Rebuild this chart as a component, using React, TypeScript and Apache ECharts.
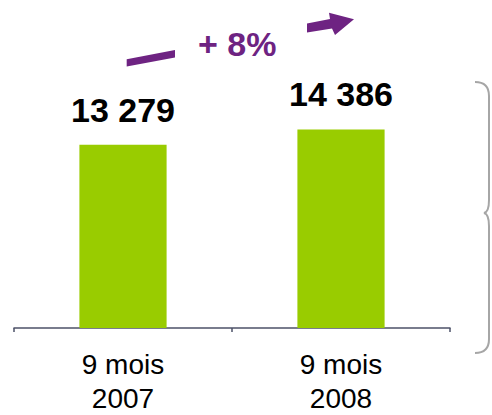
import React, { useEffect, useRef } from "react";
import * as echarts from "echarts";

const categories = ["9 mois\n2007", "9 mois\n2008"];
const values = [13279, 14386];
const valueLabels = ["13 279", "14 386"];
const growthLabel = "+ 8%";

const PURPLE = "#6E2382";
const GREEN = "#99CC00";

echarts.graphic.registerShape(
  "brace",
  echarts.graphic.extendPath(
    "M475,82 Q489,82 489,96 L489,200 Q489,212 484,213 Q489,214 489,226 L489,339 Q489,353 475,353",
    {}
  )
);

export default function App() {
  const ref = useRef<HTMLDivElement>(null);
  useEffect(() => {
    if (!ref.current) return;
    const chart = echarts.init(ref.current, null, { renderer: "svg" });
    chart.setOption({
      animation: false,
      backgroundColor: "#ffffff",
      grid: { left: 14, right: 42, top: 52, bottom: 80 },
      xAxis: {
        type: "category",
        data: categories,
        boundaryGap: true,
        axisLine: { lineStyle: { color: "#4d5268", width: 1.5 } },
        axisTick: { show: true, length: 4, lineStyle: { color: "#4d5268", width: 1.5 } },
        axisLabel: {
          margin: 19,
          fontFamily: "Liberation Sans, Arial, sans-serif",
          fontSize: 28,
          lineHeight: 34,
          color: "#000000",
        },
      },
      yAxis: {
        type: "value",
        min: 0,
        max: 20000,
        show: false,
        splitLine: { show: false },
      },
      series: [
        {
          type: "bar",
          data: values,
          barWidth: "40%",
          itemStyle: { color: GREEN },
          label: {
            show: true,
            position: "top",
            distance: 18,
            formatter: (p: any) => valueLabels[p.dataIndex],
            fontFamily: "Liberation Sans, Arial, sans-serif",
            fontWeight: "bold",
            fontSize: 34,
            color: "#000000",
          },
        },
      ],
      graphic: [
        {
          type: "polygon",
          shape: {
            points: [
              [126.7, 59.3],
              [175, 50],
              [175, 57.5],
              [126.7, 66.5],
            ],
          },
          style: { fill: PURPLE },
        },
        {
          type: "polygon",
          shape: {
            points: [
              [307, 23.5],
              [330, 19],
              [329, 12.7],
              [354, 19.3],
              [335, 35],
              [332, 28.5],
              [307, 32.5],
            ],
          },
          style: { fill: PURPLE },
        },
        {
          type: "text",
          left: 198,
          top: 27,
          style: {
            text: growthLabel,
            fill: PURPLE,
            font: "bold 34px 'Liberation Sans', Arial, sans-serif",
          },
        },
        {
          type: "brace",
          x: 0,
          y: 0,
          style: { fill: "none", stroke: "#a6a6a6", lineWidth: 2 },
        },
      ],
    });
    return () => chart.dispose();
  }, []);
  return (
    <div
      ref={ref}
      style={{ position: "fixed", left: 0, top: 0, width: 492, height: 415 }}
    />
  );
}
